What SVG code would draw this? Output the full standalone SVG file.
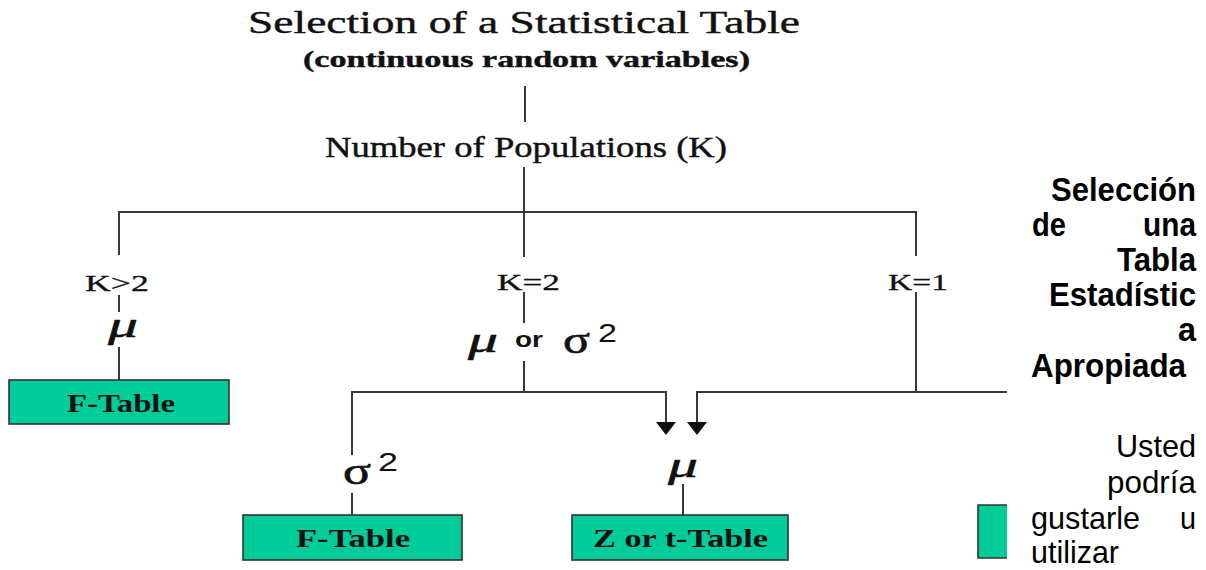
<svg xmlns="http://www.w3.org/2000/svg" width="1206" height="570" viewBox="0 0 1206 570">
<style>
.ln{stroke:#383838;stroke-width:2;fill:none}
.box{fill:#00CC99;stroke:#333;stroke-width:1.6}
.serif{font-family:"Liberation Serif","Times New Roman",serif;fill:#111;stroke:#111;stroke-width:0.4}
.lbl{font-family:"Liberation Serif","Times New Roman",serif;font-size:24px;fill:#111;stroke:#111;stroke-width:0.3}
.bt{font-family:"Liberation Serif","Times New Roman",serif;font-size:25px;font-weight:bold;fill:#111}
.greek{font-family:"Liberation Serif","Times New Roman",serif;font-style:italic;font-size:36px;fill:#111;stroke:#111;stroke-width:0.5}
.sig{font-family:"Liberation Serif","Times New Roman",serif;font-size:38px;fill:#111;stroke:#111;stroke-width:0.6}
.sup{font-family:"Liberation Sans",Arial,sans-serif;font-size:25px;fill:#111}
.es{font-family:"Liberation Sans",Arial,sans-serif;font-size:33px;font-weight:bold;fill:#000}
.er{font-family:"Liberation Sans",Arial,sans-serif;font-size:32px;fill:#000}
</style>
<rect width="1206" height="570" fill="#fff"/>
<g id="title">
<text class="serif" x="248" y="33" font-size="32" textLength="552" lengthAdjust="spacingAndGlyphs">Selection of a Statistical Table</text>
<text class="serif" x="303" y="67" font-size="23" font-weight="bold" textLength="447" lengthAdjust="spacingAndGlyphs">(continuous random variables)</text>
</g>
<g id="connectors">
<line class="ln" x1="525" y1="86" x2="525" y2="122"/>
<line class="ln" x1="524" y1="167" x2="524" y2="212"/>
<polyline class="ln" points="119,255 119,212 916,212 916,256"/>
<line class="ln" x1="524" y1="212" x2="524" y2="257"/>
<line class="ln" x1="119" y1="295" x2="119" y2="312"/>
<line class="ln" x1="119" y1="347" x2="119" y2="380"/>
<line class="ln" x1="524" y1="292" x2="524" y2="323"/>
<line class="ln" x1="524" y1="361" x2="524" y2="392"/>
<polyline class="ln" points="352,455 352,392 666,392 666,423"/>
<path d="M656,422 L676,422 L666,435 Z" fill="#111"/>
<polyline class="ln" points="1007,392 697,392 697,423"/>
<path d="M687,422 L707,422 L697,435 Z" fill="#111"/>
<line class="ln" x1="916" y1="292" x2="916" y2="392"/>
<line class="ln" x1="352" y1="493" x2="352" y2="515"/>
<line class="ln" x1="683" y1="484" x2="683" y2="515"/>
</g>
<g id="node-populations">
<text class="serif" x="325" y="157" font-size="29" textLength="402" lengthAdjust="spacingAndGlyphs">Number of Populations (K)</text>
</g>
<g id="node-kgt2">
<text class="lbl" x="85" y="291" textLength="64" lengthAdjust="spacingAndGlyphs">K&gt;2</text>
<text class="greek" x="108" y="337" textLength="30" lengthAdjust="spacingAndGlyphs">μ</text>
</g>
<g id="node-k2">
<text class="lbl" x="497" y="290" textLength="63" lengthAdjust="spacingAndGlyphs">K=2</text>
<text class="greek" x="468" y="352" textLength="30" lengthAdjust="spacingAndGlyphs">μ</text>
<text x="515" y="347" textLength="28" lengthAdjust="spacingAndGlyphs" font-family="Liberation Sans,Arial,sans-serif" font-size="22" font-weight="bold" fill="#111">or</text>
<text class="sig" x="563" y="353" textLength="27" lengthAdjust="spacingAndGlyphs">σ</text>
<text class="sup" x="598" y="342" textLength="19" lengthAdjust="spacingAndGlyphs">2</text>
</g>
<g id="node-k1">
<text class="lbl" x="888" y="290" textLength="60" lengthAdjust="spacingAndGlyphs">K=1</text>
</g>
<g id="node-ftable1">
<rect class="box" x="9" y="380" width="220" height="44"/>
<text class="bt" x="67" y="412" textLength="108" lengthAdjust="spacingAndGlyphs">F-Table</text>
</g>
<g id="node-sigma">
<text class="sig" x="343" y="484" textLength="28" lengthAdjust="spacingAndGlyphs">σ</text>
<text class="sup" x="378" y="471" textLength="20" lengthAdjust="spacingAndGlyphs">2</text>
</g>
<g id="node-mu">
<text class="greek" x="668" y="477" textLength="30" lengthAdjust="spacingAndGlyphs">μ</text>
</g>
<g id="node-ftable2">
<rect class="box" x="243" y="515" width="219" height="45"/>
<text class="bt" x="296" y="547" textLength="114" lengthAdjust="spacingAndGlyphs">F-Table</text>
</g>
<g id="node-zttable">
<rect class="box" x="572" y="515" width="216" height="45"/>
<text class="bt" x="593" y="547" textLength="175" lengthAdjust="spacingAndGlyphs">Z or t-Table</text>
</g>
<g id="side-text">
<text class="es" x="1051" y="201" textLength="145" lengthAdjust="spacingAndGlyphs">Selección</text>
<text class="es" x="1032" y="236" textLength="34" lengthAdjust="spacingAndGlyphs">de</text>
<text class="es" x="1143" y="236" textLength="53" lengthAdjust="spacingAndGlyphs">una</text>
<text class="es" x="1117" y="271" textLength="79" lengthAdjust="spacingAndGlyphs">Tabla</text>
<text class="es" x="1049" y="306" textLength="147" lengthAdjust="spacingAndGlyphs">Estadístic</text>
<text class="es" x="1178" y="341" textLength="18" lengthAdjust="spacingAndGlyphs">a</text>
<text class="es" x="1031" y="377" textLength="155" lengthAdjust="spacingAndGlyphs">Apropiada</text>
<text class="er" x="1116" y="457" textLength="80" lengthAdjust="spacingAndGlyphs">Usted</text>
<text class="er" x="1107" y="493" textLength="89" lengthAdjust="spacingAndGlyphs">podría</text>
<text class="er" x="1031" y="529" textLength="109" lengthAdjust="spacingAndGlyphs">gustarle</text>
<text class="er" x="1180" y="529" textLength="16" lengthAdjust="spacingAndGlyphs">u</text>
<text class="er" x="1031" y="563" font-size="31" textLength="88" lengthAdjust="spacingAndGlyphs">utilizar</text>
</g>
<g id="partial-box">
<rect x="978" y="505" width="29" height="53" fill="#00CC99"/>
<path d="M1007,505 L978,505 L978,558 L1007,558" fill="none" stroke="#333" stroke-width="1.6"/>
</g>
</svg>
